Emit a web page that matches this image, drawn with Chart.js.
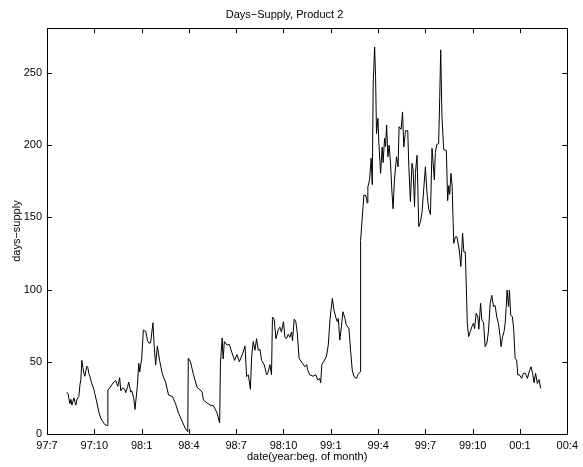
<!DOCTYPE html>
<html>
<head>
<meta charset="utf-8">
<script src="https://cdn.jsdelivr.net/npm/chart.js@4/dist/chart.umd.min.js"></script>
<style>
  html, body { margin: 0; padding: 0; background: #fff; }
  #wrap { width: 583px; height: 467px; }
</style>
</head>
<body>
<div id="wrap"><canvas id="chart" width="583" height="467"></canvas></div>
<script>
// months since 97:7 (1 Jul 1997)
var months = [
  1.26, 1.33, 1.45, 1.52, 1.58, 1.71, 1.77, 1.83, 1.90, 2.02, 2.09, 2.15, 2.21, 2.28, 2.34, 2.40,
  2.47, 2.53, 2.59, 2.65, 2.72, 2.78, 2.84, 2.97, 3.03, 3.16, 3.29, 3.41, 3.54, 3.67, 3.79, 3.84,
  3.86, 3.98, 4.11, 4.24, 4.36, 4.42, 4.49, 4.55, 4.61, 4.68, 4.80, 4.93, 4.99, 5.12, 5.18, 5.31,
  5.37, 5.50, 5.58, 5.73, 5.82, 5.88, 6.01, 6.11, 6.26, 6.37, 6.45, 6.57, 6.72, 6.80, 6.89, 7.00,
  7.14, 7.31, 7.40, 7.52, 7.71, 7.95, 8.15, 8.34, 8.58, 8.79, 8.93, 8.96, 9.10, 9.29, 9.53, 9.67,
  9.84, 9.92, 10.16, 10.37, 10.56, 10.79, 10.95, 11.00, 11.11, 11.17, 11.25, 11.42, 11.57, 11.74, 11.90, 12.05,
  12.20, 12.41, 12.56, 12.66, 12.77, 12.90, 12.98, 13.08, 13.19, 13.29, 13.40, 13.51, 13.61, 13.78, 13.93, 14.03,
  14.14, 14.24, 14.30, 14.41, 14.52, 14.66, 14.77, 14.87, 15.00, 15.09, 15.19, 15.30, 15.40, 15.51, 15.57, 15.68,
  15.78, 15.87, 15.99, 16.20, 16.35, 16.48, 16.52, 16.67, 16.88, 17.05, 17.17, 17.30, 17.36, 17.43, 17.57, 17.72,
  17.84, 17.95, 18.10, 18.20, 18.31, 18.41, 18.48, 18.57, 18.67, 18.77, 18.90, 18.98, 19.15, 19.26, 19.36, 19.47,
  19.63, 19.72, 19.83, 19.87, 19.89, 19.97, 20.10, 20.23, 20.31, 20.35, 20.46, 20.56, 20.63, 20.69, 20.78, 20.84,
  20.90, 20.99, 21.05, 21.16, 21.26, 21.32, 21.41, 21.47, 21.54, 21.62, 21.70, 21.79, 21.87, 21.95, 22.04, 22.17,
  22.27, 22.33, 22.46, 22.55, 22.63, 22.74, 22.88, 22.95, 23.05, 23.15, 23.22, 23.31, 23.37, 23.47, 23.58, 23.69,
  23.79, 23.89, 24.00, 24.10, 24.21, 24.32, 24.42, 24.57, 24.63, 24.73, 24.84, 24.91, 24.97, 25.05, 25.16, 25.33,
  25.41, 25.48, 25.54, 25.62, 25.69, 25.80, 25.90, 26.00, 26.15, 26.25, 26.36, 26.44, 26.53, 26.66, 26.74, 26.85,
  26.95, 27.05, 27.12, 27.22, 27.33, 27.39, 27.50, 27.58, 27.69, 27.79, 27.90, 28.00, 28.11, 28.21, 28.32, 28.42,
  28.53, 28.63, 28.74, 28.80, 28.89, 28.99, 29.06, 29.12, 29.18, 29.27, 29.33, 29.41, 29.52, 29.60, 29.69, 29.79,
  29.86, 29.96, 30.11, 30.21, 30.34, 30.47, 30.58, 30.70, 30.80, 30.89, 30.99, 31.10, 31.21, 31.31
];

var daysSupply = [
  29, 28, 21, 24, 20, 25, 22, 20, 24, 26, 34, 38, 51, 46, 42, 40,
  44, 47, 46, 42, 40, 37, 35, 31, 28, 22, 15, 11, 8.5, 6.5, 6, 5.8,
  30.5, 32, 34, 36, 37, 35, 33, 36, 39, 30, 32, 31, 28.6, 33, 36, 29,
  30, 25, 17, 33, 49, 43, 52.6, 72, 71, 65, 63, 63, 77, 60.5, 47.8, 61,
  51, 42, 39, 36, 27, 26, 21, 14.5, 8.5, 3.5, 1.6, 52.6, 50, 41, 32, 31,
  29, 23.5, 21.4, 20, 19.6, 14.5, 7.6, 49, 66.5, 52, 64, 61.6, 62, 56, 51, 55,
  50, 55.8, 61, 39.7, 41, 31, 53.5, 64, 58, 66, 58, 58.5, 51, 48, 41, 43,
  48, 41, 81, 79.5, 66, 72, 74, 70.5, 77.8, 67, 66, 69, 67, 70.5, 64.6, 79.5,
  78, 70.5, 52.4, 49, 46.6, 48, 44.6, 41, 40, 41, 37.4, 38.5, 35.5, 48, 50.5, 53.5,
  61.6, 79.5, 94, 86, 81, 77.8, 80, 65, 74, 84.7, 80, 75.6, 73, 57, 44.3, 39.7,
  38.5, 41, 42.7, 43, 134, 146, 165.5, 165, 160, 171, 176, 191, 172.7, 243, 268, 247.6,
  208, 218.6, 201, 180.5, 198.7, 188, 204.7, 199, 214, 192, 200, 187.5, 169, 156, 176.5, 192,
  185, 212.8, 211, 223, 198.7, 210, 210, 185, 161, 187.5, 183, 157.5, 181, 193, 143.6, 147,
  154, 169, 185, 167, 155.6, 152, 197.8, 176, 195, 200.6, 201, 233.6, 266, 220, 197, 196.4,
  161.6, 172, 166, 180.5, 173, 132, 136.5, 136.5, 127.4, 116, 139, 126, 126, 76.7, 67.4, 71,
  74.4, 76.7, 73, 83.6, 81, 72.6, 90.5, 79, 77, 60.5, 63, 71, 90.5, 96, 88.3, 89,
  81, 76.7, 67.4, 60.5, 67, 71, 76.7, 87, 99.7, 88.3, 99.7, 82.4, 81, 72.6, 52.4, 51.2,
  40.9, 41, 38.5, 42, 42, 38.5, 43, 46.6, 42, 35.5, 42, 35, 37.7, 31.6
];

var xTickLabels = ['97:7', '97:10', '98:1', '98:4', '98:7', '98:10', '99:1', '99:4', '99:7', '99:10', '00:1', '00:4'];
var yMax = 281;

var points = months.map(function(m, i) {
    return { x: m, y: daysSupply[i] };
});

// matlab style box with inward ticks
var boxPlugin = {
    id: 'boxTicks',
    afterDraw: function(chart) {
        var ctx = chart.ctx;
        var a = chart.chartArea;
        var xs = chart.scales.x, ys = chart.scales.y;
        var len = 5;
        ctx.save();
        ctx.strokeStyle = '#000';
        ctx.lineWidth = 1;
        ctx.strokeRect(Math.round(a.left) + 0.5, Math.round(a.top) + 0.5,
            Math.round(a.right - a.left), Math.round(a.bottom - a.top));
        ctx.beginPath();
        xs.ticks.forEach(function(t) {
            var px = Math.round(xs.getPixelForValue(t.value)) + 0.5;
            ctx.moveTo(px, a.bottom);
            ctx.lineTo(px, a.bottom - len);
            ctx.moveTo(px, a.top);
            ctx.lineTo(px, a.top + len);
        });
        ys.ticks.forEach(function(t) {
            var py = Math.round(ys.getPixelForValue(t.value)) + 0.5;
            ctx.moveTo(a.left, py);
            ctx.lineTo(a.left + len, py);
            ctx.moveTo(a.right, py);
            ctx.lineTo(a.right - len, py);
        });
        ctx.stroke();
        ctx.restore();
    }
};

var font = { family: '"Liberation Sans", Arial, Helvetica, sans-serif', size: 11, weight: 'normal' };

new Chart(document.getElementById('chart'), {
    type: 'line',
    data: {
        datasets: [{
            data: points,
            borderColor: '#000',
            borderWidth: 1,
            pointRadius: 0,
            tension: 0,
            fill: false
        }]
    },
    options: {
        responsive: false,
        animation: false,
        layout: { padding: { left: 0, right: 14, top: 0, bottom: 0 } },
        plugins: {
            legend: { display: false },
            tooltip: { enabled: false },
            title: {
                display: true,
                text: 'Days\u2212Supply, Product 2',
                color: '#000',
                font: font,
                padding: { top: 8, bottom: 7 }
            }
        },
        scales: {
            x: {
                type: 'linear',
                min: 0,
                max: 33,
                grid: { display: false, drawTicks: false },
                border: { display: false },
                afterFit: function(scale) { scale.height = 33; },
                ticks: {
                    stepSize: 3,
                    includeBounds: false,
                    autoSkip: false,
                    maxRotation: 0,
                    padding: 5,
                    color: '#000',
                    font: font,
                    callback: function(value, index) { return xTickLabels[index]; }
                },
                title: {
                    display: true,
                    text: 'date(year:beg. of month)',
                    color: '#000',
                    font: font,
                    padding: { top: 0, bottom: 3 }
                }
            },
            y: {
                min: 0,
                max: yMax,
                grid: { display: false, drawTicks: false },
                border: { display: false },
                afterFit: function(scale) { scale.width = 47; },
                ticks: {
                    stepSize: 50,
                    includeBounds: false,
                    padding: 5,
                    color: '#000',
                    font: font
                },
                title: {
                    display: true,
                    text: 'days\u2212supply',
                    color: '#000',
                    font: font,
                    padding: { top: 10, bottom: 0 }
                }
            }
        }
    },
    plugins: [boxPlugin]
});
</script>
</body>
</html>
